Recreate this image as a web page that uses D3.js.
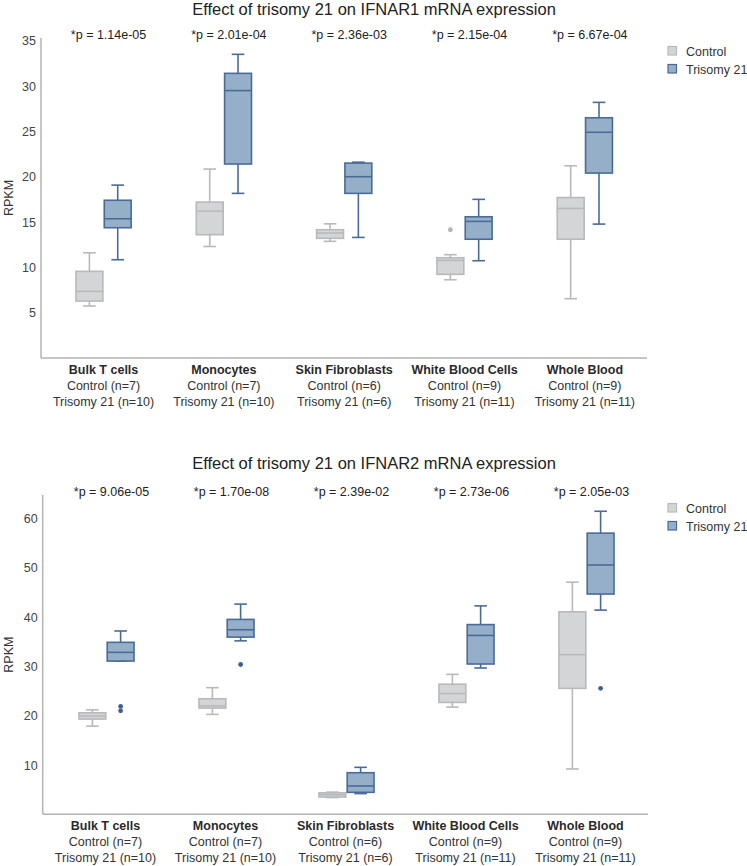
<!DOCTYPE html>
<html>
<head>
<meta charset="utf-8">
<script src="https://cdn.jsdelivr.net/npm/d3@7"></script>
<style>
body { margin: 0; background: #fff; }
svg { display: block; font-family: "Liberation Sans", Arial, sans-serif; }
</style>
</head>
<body>
<svg id="chart" width="747" height="866"></svg>
<script>
const categories = ["Bulk T cells", "Monocytes", "Skin Fibroblasts", "White Blood Cells", "Whole Blood"];
const controlN = [7, 7, 6, 9, 9];
const trisomyN = [10, 10, 6, 11, 11];
const groups = ["Control", "Trisomy 21"];

// IFNAR1: [lower whisker, Q1, median, Q3, upper whisker]
const ifnar1Control = [
  [5.73, 6.28, 7.35, 9.56, 11.6],
  [12.3, 13.6, 16.2, 17.2, 20.84],
  [12.87, 13.2, 13.78, 14.15, 14.8],
  [8.63, 9.23, 10.77, 11.06, 11.4],
  [6.54, 13.1, 16.5, 17.7, 21.2]
];
const ifnar1Trisomy = [
  [10.84, 14.37, 15.36, 17.4, 19.07],
  [18.16, 21.4, 29.5, 31.4, 33.5],
  [13.3, 18.16, 20.0, 21.5, 21.6],
  [10.73, 13.1, 15.07, 15.58, 17.5],
  [14.77, 20.4, 24.9, 26.5, 28.2]
];
const ifnar1ControlOutliers = [[], [], [], [14.15], []];
const ifnar1TrisomyOutliers = [[], [], [], [], []];
const ifnar1P = ["*p = 1.14e-05", "*p = 2.01e-04", "*p = 2.36e-03", "*p = 2.15e-04", "*p = 6.67e-04"];
const ifnar1YTicks = [5, 10, 15, 20, 25, 30, 35];

// IFNAR2
const ifnar2Control = [
  [17.9, 19.33, 19.94, 20.6, 21.2],
  [20.28, 21.56, 22.0, 23.45, 25.7],
  [3.4, 3.5, 3.95, 4.35, 4.5],
  [21.76, 22.7, 24.5, 26.4, 28.4],
  [9.2, 25.56, 32.4, 41.1, 47.1]
];
const ifnar2Trisomy = [
  [31.1, 31.1, 32.86, 34.9, 37.2],
  [35.2, 35.96, 37.45, 39.55, 42.66],
  [4.2, 4.46, 5.74, 8.44, 9.53],
  [29.7, 30.5, 36.3, 38.5, 42.3],
  [41.44, 44.7, 50.6, 57.06, 61.5]
];
const ifnar2ControlOutliers = [[], [], [], [], []];
const ifnar2TrisomyOutliers = [[21.9, 21.0], [30.4], [], [], [25.56]];
const ifnar2P = ["*p = 9.06e-05", "*p = 1.70e-08", "*p = 2.39e-02", "*p = 2.73e-06", "*p = 2.05e-03"];
const ifnar2YTicks = [10, 20, 30, 40, 50, 60];

const styles = {
  "Control": { fill: "#d4d5d7", stroke: "#b9b9bb", dot: "#b5b5b7" },
  "Trisomy 21": { fill: "#96afc8", stroke: "#4a6b98", dot: "#3f5f8f" }
};

const svg = d3.select("#chart");

function drawChart(cfg) {
  const g = svg.append("g");
  const y = d3.scaleLinear().domain(cfg.yDomain).range([cfg.yBottom, cfg.yTop]);
  const x = d3.scaleBand().domain(categories).range(cfg.xRange);
  const sub = d3.scaleBand().domain(groups).range([0, x.bandwidth()]).paddingInner(0.05).paddingOuter(1.15);

  // Title
  g.append("text").attr("x", 374).attr("y", cfg.titleY)
    .attr("text-anchor", "middle").attr("font-size", 16.5).attr("fill", "#222")
    .text(cfg.title);

  // axes lines
  g.append("line").attr("x1", cfg.axisLeft).attr("x2", cfg.axisLeft)
    .attr("y1", y(cfg.yDomain[1])).attr("y2", cfg.yBottom)
    .attr("stroke", "#b3b3b3").attr("stroke-width", 1.5);
  g.append("line").attr("x1", cfg.axisLeft).attr("x2", cfg.axisRight)
    .attr("y1", cfg.yBottom).attr("y2", cfg.yBottom)
    .attr("stroke", "#b3b3b3").attr("stroke-width", 1.5);

  // y tick labels via axis
  const yAxis = d3.axisLeft(y).tickValues(cfg.yTicks).tickSize(0).tickPadding(0);
  const ya = g.append("g").attr("transform", `translate(${cfg.axisLeft - 5},0)`).call(yAxis);
  ya.select(".domain").remove();
  ya.selectAll("text").attr("font-size", 12.5).attr("fill", "#444")
    .attr("font-family", "Liberation Sans, Arial, sans-serif");

  // y label
  g.append("text")
    .attr("transform", `translate(12.5,${(y(cfg.yDomain[1]) + cfg.yBottom) / 2}) rotate(-90)`)
    .attr("text-anchor", "middle").attr("font-size", 12.5).attr("fill", "#333")
    .text("RPKM");

  // x labels
  categories.forEach((c, i) => {
    const cx = x(c) + x.bandwidth() / 2 + cfg.labelShift;
    const t = g.append("text").attr("text-anchor", "middle").attr("font-size", 12.5).attr("fill", "#333");
    t.append("tspan").attr("x", cx).attr("y", cfg.yBottom + 16).attr("font-weight", "bold").attr("fill", "#2a2a2a").text(c);
    t.append("tspan").attr("x", cx).attr("y", cfg.yBottom + 32).text(`Control (n=${controlN[i]})`);
    t.append("tspan").attr("x", cx).attr("y", cfg.yBottom + 48).text(`Trisomy 21 (n=${trisomyN[i]})`);
    g.append("text").attr("x", x(c) + x.bandwidth() / 2 + 5).attr("y", cfg.pY)
      .attr("text-anchor", "middle").attr("font-size", 12.5).attr("fill", "#222")
      .text(cfg.pvals[i]);
  });

  // boxes
  const series = [
    { name: "Control", stats: cfg.control, out: cfg.controlOut },
    { name: "Trisomy 21", stats: cfg.trisomy, out: cfg.trisomyOut }
  ];
  series.forEach(s => {
    const st = styles[s.name];
    categories.forEach((c, i) => {
      const [lo, q1, med, q3, hi] = s.stats[i];
      const bx = x(c) + sub(s.name);
      const bw = sub.bandwidth();
      const cx = bx + bw / 2;
      const capW = bw * 0.47;
      const bg = g.append("g");
      bg.append("line").attr("x1", cx).attr("x2", cx).attr("y1", y(hi)).attr("y2", y(q3))
        .attr("stroke", st.stroke).attr("stroke-width", 1.6);
      bg.append("line").attr("x1", cx).attr("x2", cx).attr("y1", y(q1)).attr("y2", y(lo))
        .attr("stroke", st.stroke).attr("stroke-width", 1.6);
      bg.append("line").attr("x1", cx - capW / 2).attr("x2", cx + capW / 2).attr("y1", y(hi)).attr("y2", y(hi))
        .attr("stroke", st.stroke).attr("stroke-width", 1.6);
      bg.append("line").attr("x1", cx - capW / 2).attr("x2", cx + capW / 2).attr("y1", y(lo)).attr("y2", y(lo))
        .attr("stroke", st.stroke).attr("stroke-width", 1.6);
      bg.append("rect").attr("x", bx).attr("y", y(q3)).attr("width", bw).attr("height", Math.max(0.5, y(q1) - y(q3)))
        .attr("fill", st.fill).attr("stroke", st.stroke).attr("stroke-width", 1.6);
      bg.append("line").attr("x1", bx).attr("x2", bx + bw).attr("y1", y(med)).attr("y2", y(med))
        .attr("stroke", st.stroke).attr("stroke-width", 1.6);
      s.out[i].forEach(v => {
        bg.append("circle").attr("cx", cx).attr("cy", y(v)).attr("r", 2.4).attr("fill", st.dot);
      });
    });
  });

  // legend
  groups.forEach((gr, i) => {
    const ly = cfg.legendY + i * 18;
    g.append("rect").attr("x", 668).attr("y", ly - 4.5).attr("width", 8.5).attr("height", 8.5)
      .attr("fill", styles[gr].fill).attr("stroke", styles[gr].stroke).attr("stroke-width", 1.2);
    g.append("text").attr("x", 686).attr("y", ly + 4.5).attr("font-size", 12.5).attr("fill", "#333").text(gr);
  });
}

drawChart({
  title: "Effect of trisomy 21 on IFNAR1 mRNA expression",
  titleY: 14.5, pY: 38.5,
  yDomain: [0, 35.3], yBottom: 358, yTop: 38,
  xRange: [43.4, 645], axisLeft: 41, axisRight: 647, labelShift: 0,
  yTicks: ifnar1YTicks, pvals: ifnar1P,
  control: ifnar1Control, trisomy: ifnar1Trisomy,
  controlOut: ifnar1ControlOutliers, trisomyOut: ifnar1TrisomyOutliers,
  legendY: 51
});

drawChart({
  title: "Effect of trisomy 21 on IFNAR2 mRNA expression",
  titleY: 468.5, pY: 496,
  yDomain: [0, 64.8], yBottom: 814.3, yTop: 495,
  xRange: [46.5, 646.5], axisLeft: 42.7, axisRight: 648, labelShift: -1,
  yTicks: ifnar2YTicks, pvals: ifnar2P,
  control: ifnar2Control, trisomy: ifnar2Trisomy,
  controlOut: ifnar2ControlOutliers, trisomyOut: ifnar2TrisomyOutliers,
  legendY: 508
});
</script>
</body>
</html>
